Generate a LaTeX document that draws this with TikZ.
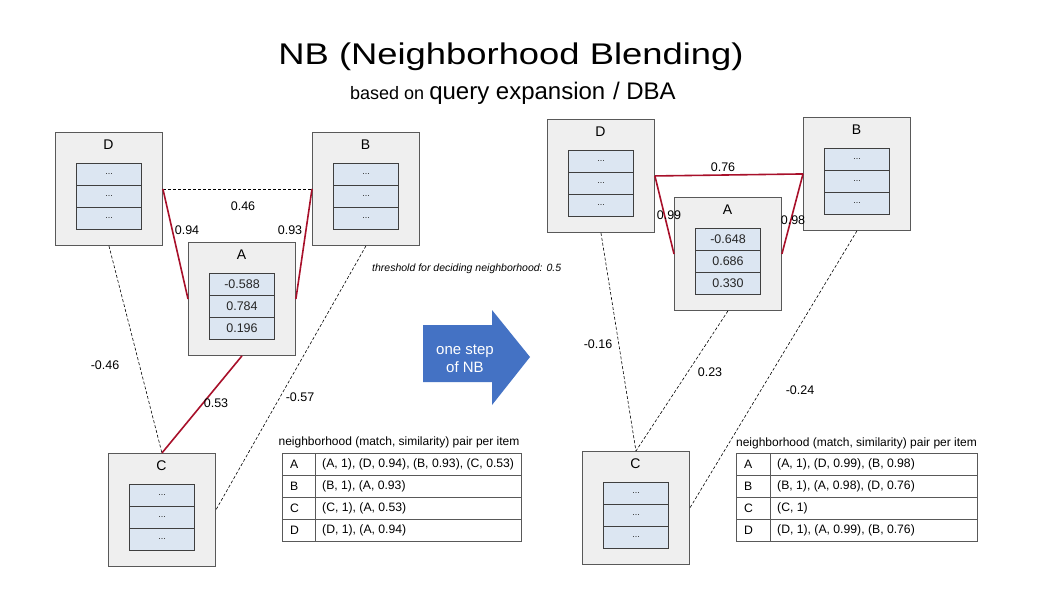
\documentclass[tikz,border=0pt]{standalone}
\usepackage{fontspec}
\setmainfont{Liberation Sans}
\definecolor{boxfill}{HTML}{EFEFEF}
\definecolor{boxline}{HTML}{595959}
\definecolor{cellfill}{HTML}{DCE6F2}
\definecolor{cellline}{HTML}{3F3F3F}
\definecolor{nbred}{HTML}{A8102A}
\definecolor{nbblue}{HTML}{4472C4}
\definecolor{tabline}{HTML}{595959}
\newcommand{\nbdots}{{\fontsize{9}{10}\selectfont ...}}
\newcommand{\nbitem}[7]{%
  \node[itembox] (#1) at (#2,#3) {};
  \node[boxlab] (#1-lab) at (#2+53.5,#3+13) {#4};
  \node[cell] (#1-c1) at (#2+21,#3+31) {#5};
  \node[cell] (#1-c2) at (#2+21,#3+53) {#6};
  \node[cell] (#1-c3) at (#2+21,#3+75) {#7};
}
\newcommand{\nbrow}[7]{% name, x, y, w1, w2, letter, text
  \node[tcell, minimum width=#4pt] (#1a) at (#2,#3) {};
  \node[tcell, minimum width=#5pt] (#1b) at (#2+#4,#3) {};
  \node[ttext] (#1at) at ([xshift=8pt]#1a.west) {#6};
  \node[ttext] (#1bt) at ([xshift=7pt]#1b.west) {#7};
}
\begin{document}
\begin{tikzpicture}[x=1pt,y=-1pt,
  itembox/.style={draw=boxline, fill=boxfill, line width=0.9pt, minimum width=107pt, minimum height=113pt, anchor=north west, inner sep=0pt},
  boxlab/.style={font=\fontsize{14}{16}\selectfont, inner sep=0pt},
  cell/.style={draw=cellline, fill=cellfill, line width=1pt, minimum width=65pt, minimum height=22pt, anchor=north west, inner sep=0pt, font=\fontsize{12.5}{14}\selectfont, text=black!85},
  tcell/.style={draw=tabline, line width=0.9pt, minimum height=22pt, inner sep=0pt, anchor=north west},
  ttext/.style={anchor=west, inner sep=0pt, font=\fontsize{12.2}{14}\selectfont},
  redge/.style={draw=nbred, line width=1.6pt},
  dedge/.style={draw=black, line width=0.6pt, dash pattern=on 3pt off 2pt},
  elab/.style={font=\fontsize{12.5}{14}\selectfont, inner sep=0pt},
  ttitle/.style={font=\fontsize{12}{14}\selectfont, inner sep=0pt}
]
\useasboundingbox (0,0) rectangle (1051,604);
\fill[white] (0,0) rectangle (1051,604);

% title
\node (title) at (511,57) {\scalebox{1.07}[0.88]{\fontsize{34}{40}\selectfont NB (Neighborhood Blending)}};
\node[anchor=base west, inner sep=0pt] (subtitle) at (350,100) {{\fontsize{18}{20}\selectfont based on }{\fontsize{24}{26}\selectfont query expansion\hspace{1pt} / DBA}};

% ---------------- left graph ----------------
\nbitem{LD}{55}{132}{D}{\nbdots}{\nbdots}{\nbdots}
\nbitem{LB}{312}{132}{B}{\nbdots}{\nbdots}{\nbdots}
\nbitem{LA}{188}{242}{A}{-0.588}{0.784}{0.196}
\nbitem{LC}{108}{453}{C}{\nbdots}{\nbdots}{\nbdots}

\draw[dedge] (LD.east) -- (LB.west);
\draw[redge] (LD.east) -- (LA.west);
\draw[redge] (LB.west) -- (LA.east);
\draw[redge] (LA.south) -- (LC.north);
\draw[dedge] (LD.south) -- (LC.north);
\draw[dedge] (LB.south) -- (LC.east);

\node[elab] (l46) at (243,206) {0.46};
\node[elab] (l94) at (187,230) {0.94};
\node[elab] (l93) at (290,230) {0.93};
\node[elab] (l53) at (216,403) {0.53};
\node[elab] (lm46) at (105,365) {-0.46};
\node[elab] (lm57) at (300,397) {-0.57};

% left table
\node[ttitle] (ltt) at (399,442) {neighborhood (match, similarity) pair per item};
\nbrow{lr1}{282}{453}{33}{239-33}{A}{(A, 1), (D, 0.94), (B, 0.93), (C, 0.53)}
\nbrow{lr2}{282}{475}{33}{239-33}{B}{(B, 1), (A, 0.93)}
\nbrow{lr3}{282}{497}{33}{239-33}{C}{(C, 1), (A, 0.53)}
\nbrow{lr4}{282}{519}{33}{239-33}{D}{(D, 1), (A, 0.94)}

% threshold
\node[anchor=base west, inner sep=0pt, font=\fontsize{10.5}{12}\selectfont\itshape] (thr) at (372,271) {threshold for deciding neighborhood: 0.5};

% arrow
\fill[nbblue] (423,325) -- (492,325) -- (492,310) -- (530,357) -- (492,405) -- (492,382) -- (423,382) -- cycle;
\node[text=white, align=center, font=\fontsize{15}{18}\selectfont, inner sep=0pt] (arrtxt) at (465,359) {one step\\of NB};

% ---------------- right graph ----------------
\nbitem{RD}{547}{119}{D}{\nbdots}{\nbdots}{\nbdots}
\nbitem{RB}{803}{117}{B}{\nbdots}{\nbdots}{\nbdots}
\nbitem{RA}{674}{197}{A}{-0.648}{0.686}{0.330}
\nbitem{RC}{582}{451}{C}{\nbdots}{\nbdots}{\nbdots}

\draw[redge] (RD.east) -- (RB.west);
\draw[redge] (RD.east) -- (RA.west);
\draw[redge] (RB.west) -- (RA.east);
\draw[dedge] (RD.south) -- (RC.north);
\draw[dedge] (RA.south) -- (RC.north);
\draw[dedge] (RB.south) -- (RC.east);

\node[elab] (r76) at (723,167) {0.76};
\node[elab] (r99) at (669,215) {0.99};
\node[elab] (r98) at (793,220) {0.98};
\node[elab] (rm16) at (598,344) {-0.16};
\node[elab] (r23) at (710,372) {0.23};
\node[elab] (rm24) at (800,390) {-0.24};

% right table
\node[ttitle] (rtt) at (856.5,443) {neighborhood (match, similarity) pair per item};
\nbrow{rr1}{736}{453}{34}{207}{A}{(A, 1), (D, 0.99), (B, 0.98)}
\nbrow{rr2}{736}{475}{34}{207}{B}{(B, 1), (A, 0.98), (D, 0.76)}
\nbrow{rr3}{736}{497}{34}{207}{C}{(C, 1)}
\nbrow{rr4}{736}{519}{34}{207}{D}{(D, 1), (A, 0.99), (B, 0.76)}
\end{tikzpicture}
\end{document}
